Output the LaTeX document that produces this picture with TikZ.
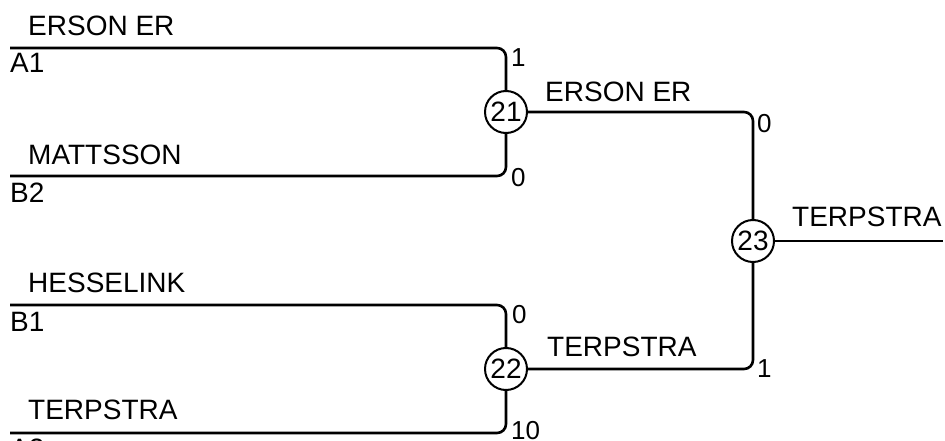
\documentclass[tikz,border=0pt]{standalone}
\usepackage{fontspec}
\setmainfont{Liberation Sans}
\begin{document}
\begin{tikzpicture}[x=1pt,y=-1pt,
  wire/.style={line width=2.6pt, rounded corners=9pt},
  mnode/.style={circle, draw, line width=2pt, minimum size=42pt, inner sep=0pt, font=\fontsize{28}{30}\selectfont},
  pname/.style={anchor=south west, inner sep=0pt, font=\fontsize{28}{30}\selectfont},
  pslot/.style={anchor=north west, inner sep=0pt, font=\fontsize{28}{30}\selectfont},
  pscore/.style={anchor=north west, inner sep=0pt, font=\fontsize{26}{28}\selectfont}]
\useasboundingbox (0,0) rectangle (945,441);
% match nodes
\node[mnode] (m21) at (506,112) {21};
\node[mnode] (m22) at (506,369) {22};
\node[mnode] (m23) at (753,241) {23};
% entry points
\coordinate (a1) at (10,48);
\coordinate (b2) at (10,176);
\coordinate (b1) at (10,305);
\coordinate (a2) at (10,433);
\coordinate (fin) at (943,241);
% connectors
\draw[wire] (a1) -| (m21.north);
\draw[wire] (b2) -| (m21.south);
\draw[wire] (b1) -| (m22.north);
\draw[wire] (a2) -| (m22.south);
\draw[wire] (m21.east) -| (m23.north);
\draw[wire] (m22.east) -| (m23.south);
\draw[wire] (m23.east) -- (fin);
% names
\node[pname] (n1) at (28,36) {ERSON ER};
\node[pname] (n2) at (28,165) {MATTSSON};
\node[pname] (n3) at (28,293) {HESSELINK};
\node[pname] (n4) at (28,420) {TERPSTRA};
\node[pname] (n5) at (545,102) {ERSON ER};
\node[pname] (n6) at (547,357) {TERPSTRA};
\node[pname] (n7) at (792,227) {TERPSTRA};
% slots
\node[pslot] (l1) at (10,53) {A1};
\node[pslot] (l2) at (10,183) {B2};
\node[pslot] (l3) at (10,312) {B1};
\node[pslot] (l4) at (10,439) {A2};
% scores
\node[pscore] (s1) at (511,48) {1};
\node[pscore] (s2) at (511,168) {0};
\node[pscore] (s3) at (757,114) {0};
\node[pscore] (s4) at (512,305) {0};
\node[pscore] (s5) at (757,359) {1};
\node[pscore] (s6) at (511,421) {10};
\end{tikzpicture}
\end{document}
